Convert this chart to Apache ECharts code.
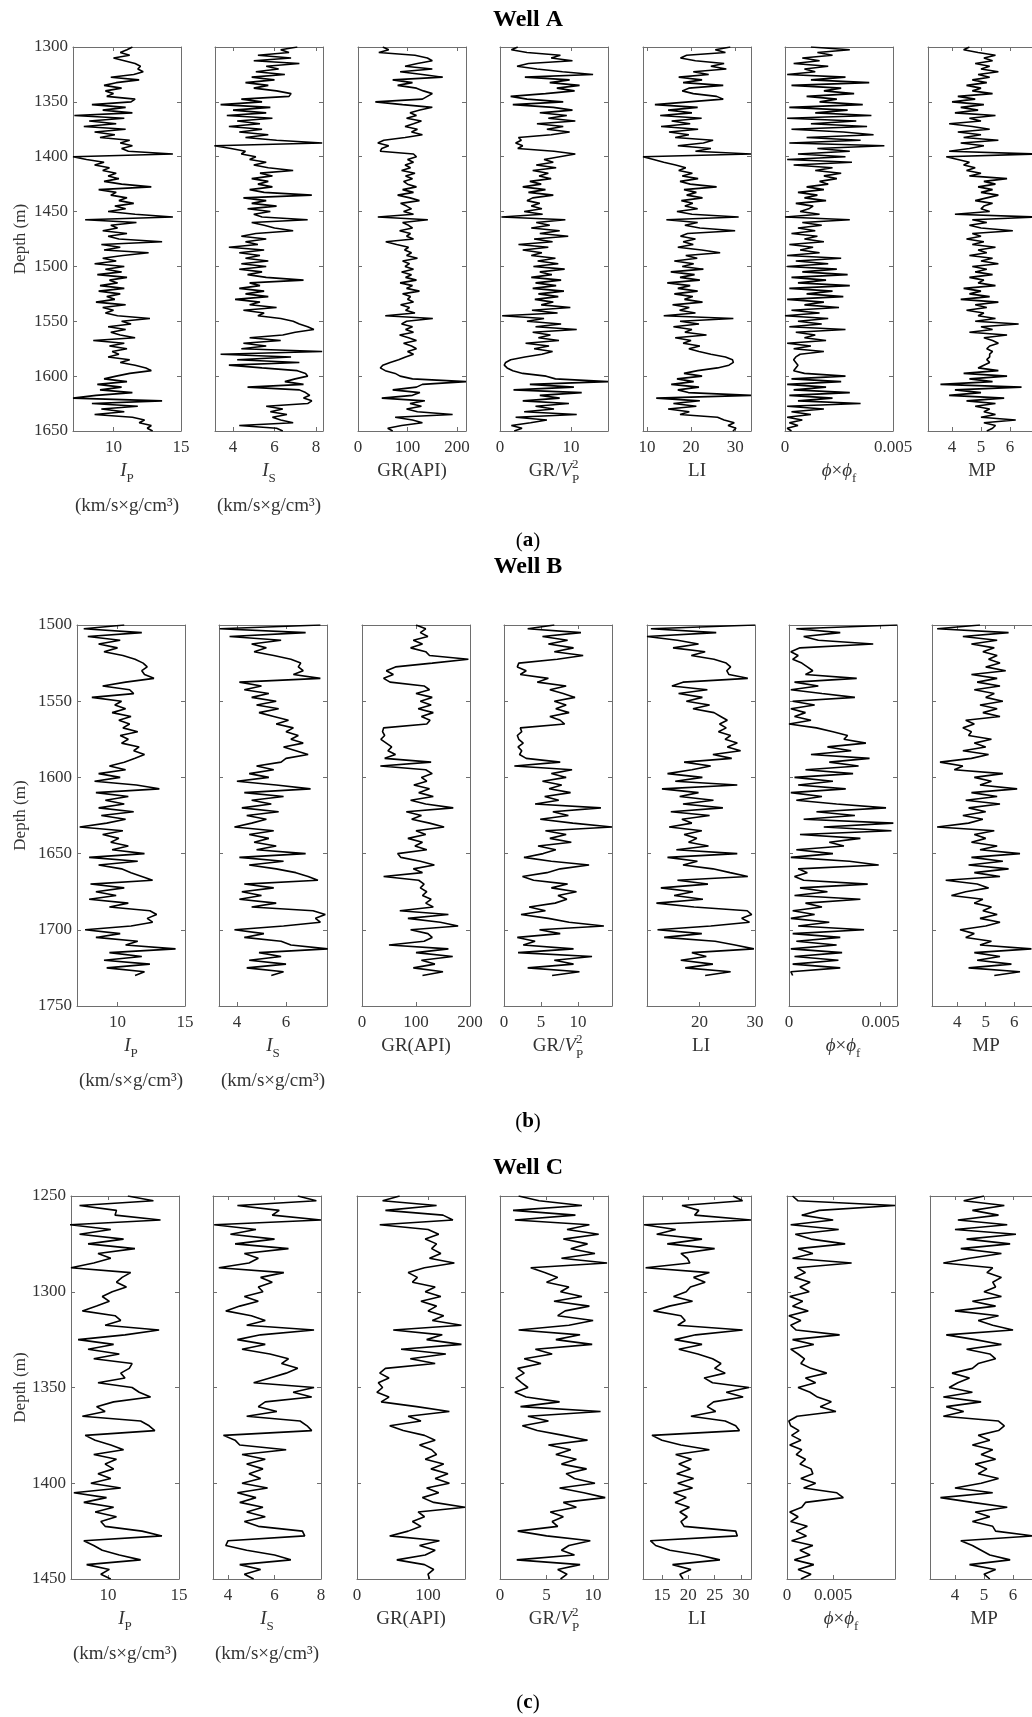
<!DOCTYPE html>
<html><head><meta charset="utf-8">
<script src="https://cdn.jsdelivr.net/npm/echarts@6/dist/echarts.min.js"></script>
<style>html,body{margin:0;padding:0;background:#fff}#c{width:1032px;height:1717px}</style>
</head><body><div id="c"></div><script>
// ---------------- DATA ----------------
const DEPTH_STEP = 2.5;
const A_DEPTH0 = 1300, B_DEPTH0 = 1500, C_DEPTH0 = 1250;
const A_YTICKS = [1300,1350,1400,1450,1500,1550,1600,1650];
const B_YTICKS = [1500,1550,1600,1650,1700,1750];
const C_YTICKS = [1250,1300,1350,1400,1450];
const A_XTICKS = [[10,15],[4,6,8],[0,100,200],[0,10],[10,20,30],[0,0.005],[4,5,6]];
const B_XTICKS = [[10,15],[4,6],[0,100,200],[0,5,10],[20,30],[0,0.005],[4,5,6]];
const C_XTICKS = [[10,15],[4,6,8],[0,100],[0,5,10],[15,20,25,30],[0,0.005],[4,5,6]];

// Well A (1300-1650 m)
const A_IP = [11.4,11.0,10.5,11.2,10.0,10.8,11.6,12.0,11.8,12.2, 11.5,9.8,11.9,10.2,9.3,10.6,9.4,10.0,9.5,11.6,
 11.3,8.4,10.9,9.2,11.4,7.1,10.8,8.2,10.2,7.8, 10.9,8.6,10.1,9.0,11.2,10.5,11.4,10.6,11.1,14.4,
 7.0,8.0,9.3,8.6,9.7,9.2,10.2,9.6,10.4,9.3, 10.6,12.8,8.9,10.2,9.8,11.0,10.4,11.5,10.1,10.9,
 9.6,11.6,14.4,7.9,11.7,9.8,10.3,9.2,11.0,9.6, 10.4,13.6,9.1,10.5,9.3,12.6,10.7,9.2,10.2,8.6,
 10.8,9.4,10.6,8.8,11.0,9.7,10.3,9.0,10.8,8.9, 10.5,9.5,10.1,8.7,10.9,9.2,10.0,9.4,10.3,12.7,
 10.6,11.3,9.6,10.9,9.8,10.5,11.6,8.5,10.8,9.7, 11.0,9.9,10.4,9.6,11.2,10.5,11.6,12.4,12.8,11.2,
 10.2,9.3,11.0,8.8,10.6,9.0,11.4,8.7,7.0,13.6, 8.4,11.8,9.1,10.8,8.6,11.4,12.3,11.9,12.8,12.5, 12.9];
const A_IS = [7.1,6.3,6.7,5.2,6.8,5.0,7.2,5.6,6.2,5.1, 6.5,4.9,6.0,4.6,5.7,5.0,6.1,6.8,6.7,4.4,
 5.4,3.4,5.8,4.0,5.6,3.7,5.9,4.2,5.3,3.8, 5.4,4.3,5.7,4.6,6.1,8.3,3.1,3.9,4.6,4.4,
 5.1,4.8,5.6,5.0,5.7,6.9,5.3,5.9,4.9,5.7, 5.2,5.9,4.8,5.5,7.8,4.5,5.6,4.9,6.1,4.7,
 5.8,5.0,5.4,7.6,4.9,5.5,6.0,6.9,5.1,4.4, 5.6,4.6,5.2,3.8,5.5,4.3,5.3,4.6,5.7,4.4,
 5.6,4.3,5.4,4.7,5.6,7.4,4.8,5.3,4.3,5.5, 4.6,5.7,4.1,5.3,4.8,6.1,4.5,5.5,5.2,6.3,
 6.9,7.2,7.6,7.9,7.0,6.4,4.8,6.3,4.5,5.6, 4.4,8.3,3.4,6.8,4.2,7.2,3.8,5.4,7.1,7.5,
 7.6,7.0,6.5,7.4,4.7,7.2,7.5,7.7,7.4,7.8, 7.6,5.6,6.4,5.8,6.6,5.9,6.3,6.9,4.3,6.1, 6.4];
const A_GR = [50,62,42,115,140,150,120,95,150,85, 130,171,70,110,80,118,132,150,140,130,
 35,90,150,125,105,118,98,128,112,95, 120,108,130,95,52,40,62,48,45,112,
 118,100,112,95,106,88,115,96,110,92, 100,118,90,112,80,105,124,86,98,108,
 92,112,40,141,90,102,110,84,106,98, 112,56,78,102,94,108,98,120,90,104,
 95,112,88,108,96,118,85,110,98,124, 90,106,100,112,86,104,96,115,55,151,
 98,88,110,96,112,84,102,118,92,108, 118,100,112,96,82,65,50,45,55,75,
 85,110,218,130,118,70,125,110,48,135, 105,128,98,120,191,75,110,130,88,60, 70];
const A_GRV = [2.5,1.6,3.8,8.5,7.2,10.2,4.0,2.4,5.2,8.8, 13.1,3.5,9.8,7.0,11.2,8.0,10.5,6.4,1.5,3.8,
 8.9,1.8,7.5,10.2,5.6,9.4,6.8,10.6,5.2,8.9, 6.6,9.8,7.2,2.6,3.0,2.2,3.2,2.5,7.6,10.6,
 8.4,6.2,7.5,5.1,7.9,4.6,6.8,5.5,7.2,4.2, 5.8,3.2,6.4,4.0,7.5,4.6,3.8,5.6,4.4,5.9,
 3.4,6.0,0.2,9.2,5.1,7.0,4.4,8.4,5.6,9.6, 4.8,7.4,2.6,6.8,3.2,5.9,4.4,7.8,5.3,8.2,
 4.7,9.1,5.6,7.3,4.4,8.6,5.0,7.9,4.6,9.0, 5.4,8.2,4.9,7.5,5.8,9.9,4.5,8.1,0.3,6.2,
 3.8,8.6,5.0,10.8,4.6,7.1,5.4,8.3,3.6,6.9, 4.8,7.4,5.9,3.5,1.5,0.8,0.6,1.0,1.8,3.2,
 6.5,7.8,15.2,4.2,10.4,1.9,11.5,5.6,8.4,3.2, 9.7,5.0,7.6,3.4,10.8,2.2,6.6,4.3,1.6,3.1, 2.0];
const A_LI = [28.9,25.5,27.8,19.0,17.6,21.0,27.5,24.5,28.0,20.5, 24.0,17.2,22.5,18.2,27.3,19.5,18.0,20.5,25.8,27.3,
 19.5,11.8,21.5,14.8,20.2,13.0,22.4,15.6,19.8,13.2, 21.6,15.0,19.5,16.4,25.0,22.8,17.0,24.5,21.0,33.6,
 9.1,11.5,13.8,16.5,18.8,17.2,20.3,18.0,21.6,17.5, 19.8,25.8,18.4,21.2,19.0,22.6,17.8,20.4,18.6,21.5,
 16.8,20.2,30.8,14.4,21.5,18.6,22.0,30.0,19.2,17.6, 21.0,18.2,20.5,17.0,22.4,26.6,18.8,21.4,16.2,20.6,
 18.0,22.8,15.4,20.8,17.5,22.0,14.6,19.8,17.0,21.5, 16.2,20.4,18.5,22.6,15.8,19.6,17.4,21.0,13.8,29.6,
 17.5,21.8,16.0,20.2,18.6,23.5,16.4,20.0,18.2,22.0, 19.5,21.8,24.5,27.8,29.4,29.6,28.6,26.0,21.5,18.4,
 22.5,16.8,20.6,15.5,21.8,17.0,19.4,33.6,12.1,22.0, 16.0,21.2,14.8,19.6,17.5,26.0,27.5,29.8,28.4,30.2, 29.5];
const A_PHI = [0.0012,0.0030,0.0015,0.0022,0.0008,0.0016,0.0004,0.0020,0.0009,0.0014,
 0.0001,0.0028,0.0012,0.0039,0.0003,0.0026,0.0018,0.0032,0.0010,0.0024,
 0.0016,0.0036,0.0002,0.0029,0.0014,0.0040,0.0001,0.0033,0.0012,0.0038,
 0.0003,0.0027,0.0041,0.0010,0.0035,0.0002,0.0046,0.0015,0.0030,0.0006,
 0.0028,0.0001,0.0031,0.0004,0.0022,0.0014,0.0026,0.0018,0.0024,0.0016,
 0.0020,0.0010,0.0018,0.0006,0.0015,0.0009,0.0019,0.0005,0.0013,0.0011,
 0.0007,0.0016,0.0000,0.0030,0.0008,0.0017,0.0006,0.0014,0.0003,0.0015,
 0.0009,0.0018,0.0002,0.0013,0.0007,0.0016,0.0001,0.0026,0.0005,0.0020,
 0.0001,0.0024,0.0008,0.0029,0.0003,0.0019,0.0006,0.0030,0.0002,0.0022,
 0.0010,0.0027,0.0001,0.0018,0.0009,0.0025,0.0003,0.0016,0.0000,0.0020,
 0.0006,0.0017,0.0002,0.0028,0.0005,0.0014,0.0009,0.0019,0.0001,0.0012,
 0.0004,0.0018,0.0007,0.0005,0.0004,0.0005,0.0006,0.0005,0.0004,0.0009,
 0.0028,0.0003,0.0026,0.0001,0.0019,0.0004,0.0030,0.0002,0.0022,0.0006,
 0.0035,0.0001,0.0018,0.0003,0.0012,0.0001,0.0008,0.0002,0.0006,0.0001, 0.0003];
const A_MP = [4.6,4.4,4.9,5.5,5.1,5.4,4.8,5.3,5.0,5.6, 4.9,5.3,4.7,5.2,4.5,5.0,4.7,5.4,4.2,4.8,
 4.0,5.1,4.3,4.9,4.1,5.5,4.6,5.0,3.9,4.7, 5.3,4.2,5.0,4.4,5.6,4.3,5.1,4.6,3.9,6.9,
 3.8,4.2,4.6,4.4,4.8,4.5,5.0,4.6,5.9,5.1, 5.5,4.9,5.4,5.0,5.6,5.2,4.8,5.4,5.1,5.0,
 5.3,4.1,6.9,4.7,5.2,4.6,5.0,6.1,4.7,5.0, 4.5,5.1,4.7,5.5,4.9,5.2,4.6,5.4,5.0,5.6,
 4.7,5.2,4.8,5.4,4.6,5.1,4.9,5.5,4.4,5.0, 4.6,5.3,4.3,5.6,4.8,5.2,4.5,5.1,4.9,5.5,
 4.8,6.3,5.0,5.4,4.6,5.9,5.1,5.4,5.6,5.3, 5.2,5.4,5.3,5.3,5.2,5.3,5.1,4.9,5.6,4.4,
 5.9,4.6,5.4,3.6,6.4,4.1,5.0,3.9,5.8,4.5, 5.5,4.8,5.3,5.1,5.5,5.0,6.2,5.1,5.5,5.4, 5.2];

// Well B (1500-1730 m)
const B_IP = [10.5,7.5,11.8,7.8,10.2,8.6,10.0,9.0,10.4,11.3, 11.9,12.2,11.8,12.0,12.7,10.6,8.9,10.9,11.2,8.1,
 10.3,9.8,10.6,9.6,11.0,10.1,10.9,10.4,11.5,10.2, 10.8,10.3,11.6,11.2,12.0,11.3,10.5,9.4,10.6,8.6,
 10.2,8.3,11.4,13.1,8.4,10.8,9.1,10.5,8.6,11.2, 8.8,10.6,9.2,7.2,10.4,8.9,10.1,9.5,10.8,9.6,
 12.0,7.9,11.5,8.6,10.3,11.0,11.8,12.6,8.0,10.5, 8.4,9.9,7.9,10.8,9.4,12.4,12.9,12.2,12.6,11.0,
 7.6,10.2,8.4,11.5,10.6,14.3,9.4,11.8,9.0,12.4, 9.2,12.0,11.3];
const B_IS = [7.4,3.3,6.8,3.7,5.8,4.6,5.2,4.7,5.5,6.2, 6.6,6.5,6.7,6.3,7.4,4.1,5.0,4.3,5.3,4.6,
 5.6,4.8,5.7,4.9,5.5,6.1,5.6,6.3,6.0,6.5, 6.2,6.7,5.9,6.4,6.9,6.0,5.8,4.8,5.5,4.5,
 5.3,4.0,5.6,7.0,4.3,5.9,4.6,5.4,4.2,5.7, 4.4,5.2,4.6,3.9,5.5,4.5,5.3,4.7,5.6,4.8,
 6.8,4.1,5.9,4.5,5.6,6.4,6.9,7.3,4.3,5.5, 4.2,5.0,4.1,5.6,4.6,7.1,7.6,7.2,7.4,5.9,
 3.9,5.1,4.3,5.8,6.2,7.7,4.9,5.8,4.5,6.0, 4.4,5.9,5.4];
const B_GR = [100,118,108,122,95,112,90,118,125,197, 130,62,45,58,40,52,115,125,100,130,
 108,128,104,132,110,126,120,40,38,42, 35,45,55,48,62,42,128,34,118,130,
 110,120,96,125,105,132,90,118,169,82, 110,92,125,152,100,118,85,112,98,120,
 66,72,108,134,95,112,40,105,115,108, 120,112,128,118,132,70,160,85,145,178,
 90,122,130,115,50,160,100,168,110,135, 95,150,112];
const B_GRV = [6.8,3.2,10.4,5.2,8.6,6.0,9.4,6.8,10.7,7.2, 2.0,1.8,3.0,2.2,6.0,4.5,8.4,6.2,8.0,9.6,
 6.8,8.4,7.0,8.8,6.2,7.6,8.2,2.2,2.4,1.8, 2.0,2.6,1.9,2.4,2.1,3.0,7.6,1.4,9.2,6.4,
 8.4,5.2,7.8,6.1,9.0,5.5,7.4,4.2,13.1,6.6, 8.7,4.9,9.3,14.6,5.6,8.4,6.2,9.1,4.6,7.0,
 5.3,2.7,6.4,11.5,7.6,5.8,2.5,4.0,8.6,6.4, 9.8,7.3,8.5,6.9,3.4,5.6,2.3,6.0,8.8,13.5,
 4.8,7.6,1.8,4.2,2.6,9.4,1.9,11.9,6.8,9.4, 3.2,10.2,6.5];
const B_LI = [30.0,11.2,23.0,10.5,16.0,19.8,15.2,21.0,18.5,22.6, 24.8,25.6,24.9,25.3,28.7,17.0,15.0,21.4,16.2,20.5,
 17.6,21.8,18.8,22.6,23.8,25.0,23.6,24.8,23.4,25.6, 24.6,26.8,25.0,27.4,22.4,25.8,17.2,22.0,18.6,14.2,
 20.5,15.6,26.8,13.2,19.8,16.4,22.5,17.0,24.2,14.8, 21.8,16.8,18.6,14.5,20.4,17.2,19.5,18.0,21.6,15.8,
 26.8,14.2,19.6,17.0,22.4,25.5,28.7,16.0,21.5,13.0, 18.8,15.4,20.6,12.2,19.0,28.6,29.4,27.6,29.0,22.0,
 12.4,20.4,13.6,22.8,26.4,29.8,18.6,21.2,16.6,22.4, 17.4,25.6,21.0];
const B_PHI = [0.0059,0.0004,0.0028,0.0008,0.0016,0.0046,0.0006,0.0001,0.0005,0.0002,
 0.0007,0.0010,0.0013,0.0009,0.0037,0.0003,0.0016,0.0001,0.0018,0.0036,
 0.0002,0.0014,0.0001,0.0009,0.0003,0.0012,0.0000,0.0015,0.0024,0.0032,
 0.0030,0.0042,0.0021,0.0034,0.0012,0.0044,0.0022,0.0038,0.0009,0.0035,
 0.0003,0.0024,0.0005,0.0031,0.0001,0.0018,0.0004,0.0026,0.0053,0.0015,
 0.0036,0.0008,0.0057,0.0019,0.0056,0.0006,0.0039,0.0022,0.0030,0.0004,
 0.0024,0.0001,0.0033,0.0049,0.0005,0.0010,0.0003,0.0008,0.0043,0.0006,
 0.0021,0.0003,0.0039,0.0009,0.0018,0.0002,0.0014,0.0001,0.0022,0.0005,
 0.0041,0.0002,0.0028,0.0004,0.0026,0.0001,0.0029,0.0003,0.0027,0.0002,
 0.0028,0.0001,0.0002];
const B_MP = [4.8,3.3,5.8,4.2,5.4,4.5,5.3,4.9,5.4,5.1, 5.5,5.0,5.7,4.5,5.4,4.7,5.5,4.6,5.3,5.0,
 5.6,4.8,5.4,4.9,5.5,4.3,4.6,4.2,4.5,4.4, 5.2,4.6,5.0,4.2,5.1,4.5,3.4,4.2,3.9,5.6,
 4.6,5.2,4.8,6.1,4.5,5.4,4.3,5.5,4.4,5.0, 4.2,4.9,4.4,3.3,5.3,4.6,5.0,4.5,5.4,4.8,
 6.2,4.5,5.6,4.4,5.8,4.6,5.5,3.6,4.7,5.1, 4.3,3.8,4.9,4.6,5.2,4.9,5.4,4.8,5.5,5.0,
 4.1,4.6,4.3,5.2,4.8,6.6,4.6,5.5,4.7,5.9, 4.4,6.2,5.3];

// Well C (1250-1450 m)
const C_IP = [11.4,13.2,8.0,10.6,10.5,13.7,7.3,10.2,8.0,11.1, 8.6,11.9,9.3,10.2,9.0,7.4,11.6,11.0,10.6,11.3,
 10.3,9.6,10.1,9.2,8.2,10.5,10.9,9.8,13.6,11.2, 7.9,10.4,8.6,10.8,9.0,11.7,11.5,10.9,11.2,9.3,
 11.7,12.2,13.0,10.4,9.2,9.8,8.2,12.3,12.9,13.3, 8.4,9.1,10.2,11.1,9.0,10.6,9.8,10.4,9.3,10.2,
 8.8,10.9,7.6,9.9,8.3,10.4,9.1,10.6,9.5,9.8, 12.4,13.8,8.3,9.0,9.6,10.8,12.3,8.5,10.1,9.5, 10.2];
const C_IS = [7.0,7.8,4.4,6.2,5.9,8.0,3.4,5.2,4.1,6.0, 4.3,6.6,4.7,5.3,4.9,3.6,6.4,5.4,5.9,5.3,
 5.5,4.7,5.3,4.5,3.9,5.0,5.6,4.8,7.7,5.4, 4.4,5.6,4.6,5.8,6.6,6.3,7.0,6.5,5.8,5.1,
 7.7,6.8,7.6,5.6,5.3,6.1,4.8,7.1,7.4,7.6, 3.8,4.3,4.5,6.5,4.6,5.6,4.8,5.5,4.9,5.4,
 4.6,5.7,4.4,5.2,4.5,5.5,4.8,5.6,4.7,5.3, 7.2,7.3,4.0,3.9,4.8,6.0,6.7,4.5,5.4,4.7, 5.1];
const C_GR = [60,36,112,40,121,135,32,100,115,96, 112,105,118,102,137,95,72,85,78,110,
 96,118,90,112,100,122,106,147,51,120, 98,147,62,125,75,110,40,32,45,30,
 36,28,45,34,84,130,72,90,46,65, 95,110,88,105,112,96,122,104,128,110,
 130,98,115,92,108,152,86,95,78,90, 72,46,116,88,110,96,56,95,108,100, 102];
const C_GRV = [2.0,4.2,8.8,1.4,8.1,1.6,9.6,7.2,10.6,6.8, 9.4,7.6,10.2,6.6,11.5,3.3,4.8,6.2,5.0,7.4,
 6.5,8.8,5.8,9.6,7.0,6.2,10.0,7.4,2.0,8.6, 6.0,9.9,3.8,5.6,2.6,4.4,1.9,2.6,1.7,2.3,
 3.0,1.6,2.8,6.4,2.2,10.8,3.0,5.2,2.4,4.0, 6.8,9.4,5.2,7.6,6.0,8.2,6.6,9.3,7.1,8.0,
 10.2,6.4,9.0,11.3,6.8,8.2,5.4,6.8,5.6,6.2, 1.9,5.0,9.7,7.4,6.6,8.0,1.8,8.6,6.2,7.2, 6.5];
const C_LI = [28.5,30.3,18.8,22.0,21.2,31.9,11.6,17.6,14.0,22.6, 16.0,25.0,18.6,19.8,20.3,11.9,24.0,21.0,23.2,20.4,
 19.6,17.2,20.8,16.4,13.4,18.6,19.4,18.0,30.3,21.4, 17.4,22.6,18.2,21.8,24.6,26.2,25.0,27.0,23.0,24.6,
 31.5,27.2,30.4,24.8,23.6,25.2,20.5,27.0,29.0,29.7, 13.1,15.0,18.6,24.0,17.6,20.6,18.2,20.4,17.8,21.0,
 18.0,20.8,17.2,19.6,17.5,20.2,18.4,19.8,18.6,19.2, 29.0,29.3,12.8,13.8,16.5,22.0,26.0,17.0,20.5,18.4, 19.0];
const C_PHI = [0.0006,0.0012,0.0117,0.0035,0.0016,0.0050,0.0004,0.0056,0.0009,0.0026,
 0.0063,0.0012,0.0028,0.0006,0.0070,0.0011,0.0020,0.0008,0.0025,0.0014,
 0.0024,0.0003,0.0017,0.0006,0.0023,0.0002,0.0015,0.0004,0.0010,0.0057,
 0.0006,0.0029,0.0004,0.0012,0.0019,0.0015,0.0026,0.0043,0.0020,0.0031,
 0.0012,0.0025,0.0033,0.0048,0.0036,0.0053,0.0011,0.0002,0.0004,0.0013,
 0.0005,0.0015,0.0003,0.0016,0.0010,0.0020,0.0014,0.0026,0.0028,0.0015,
 0.0031,0.0018,0.0054,0.0061,0.0020,0.0016,0.0003,0.0012,0.0004,0.0022,
 0.0010,0.0021,0.0005,0.0028,0.0014,0.0025,0.0008,0.0029,0.0012,0.0026, 0.0015];
const C_MP = [5.0,4.3,5.7,4.6,5.5,4.1,5.8,4.0,6.1,4.4, 5.9,4.2,5.6,4.5,3.6,5.3,5.1,5.6,5.3,5.4,
 5.0,5.6,4.6,5.4,4.0,5.5,4.8,5.3,6.0,3.7, 4.7,5.6,4.4,5.2,5.4,4.8,4.6,3.9,4.5,4.1,
 3.8,4.6,3.6,4.9,3.7,4.3,3.6,5.5,5.7,5.5, 4.8,5.2,4.6,5.3,4.9,5.4,4.7,5.1,4.8,5.5,
 4.9,4.0,5.3,3.5,4.6,5.8,4.7,5.2,4.6,5.3, 5.4,6.7,4.2,4.6,4.9,5.2,5.9,4.5,5.4,5.0, 5.2];

// ---------------- LAYOUT ----------------
const SERIF = '"Liberation Serif","Times New Roman",serif';
const TRACK_W = 108;
const WELLS = [
  {title:'Well A', titleY:20, tag:'a', tagY:541, top:47, bottom:431,
   lefts:[73,215,358,500,643,785,928], yMin:1300, yMax:1650, yTicks:A_YTICKS, d0:A_DEPTH0,
   curves:[A_IP,A_IS,A_GR,A_GRV,A_LI,A_PHI,A_MP],
   ranges:[[7,15],[3.13,8.34],[0,218],[0,15.2],[9.1,33.6],[0,0.005],[3.17,6.9]], xTicks:A_XTICKS},
  {title:'Well B', titleY:567, tag:'b', tagY:1122, top:625, bottom:1006,
   lefts:[77,219,362,504,647,789,932], yMin:1500, yMax:1750, yTicks:B_YTICKS, d0:B_DEPTH0,
   curves:[B_IP,B_IS,B_GR,B_GRV,B_LI,B_PHI,B_MP],
   ranges:[[7,15],[3.27,7.67],[0,200],[0,14.6],[10.5,30],[0,0.0059],[3.12,6.9]], xTicks:B_XTICKS},
  {title:'Well C', titleY:1168, tag:'c', tagY:1703, top:1196, bottom:1579,
   lefts:[71,213,357,500,643,787,930], yMin:1250, yMax:1450, yTicks:C_YTICKS, d0:C_DEPTH0,
   curves:[C_IP,C_IS,C_GR,C_GRV,C_LI,C_PHI,C_MP],
   ranges:[[7.4,15],[3.35,8],[0,152],[0,11.6],[11.4,31.9],[0,0.0117],[3.14,6.86]], xTicks:C_XTICKS}
];

const BOX = '#6e6e6e', TXT = '#333';
const ctx = document.createElement('canvas').getContext('2d');
function tw(t, f){ ctx.font = f; return ctx.measureText(t).width; }
function comp(cx, cy, pieces){
  let total = 0;
  pieces.forEach(p => { p.w = tw(p.t, p.f); if (p.adv !== false) total += p.w; });
  let x = cx - total/2; const out = [];
  pieces.forEach(p => {
    out.push({type:'text', x:x, y:cy + (p.dy||0), silent:true,
      style:{text:p.t, font:p.f, fill:TXT, align:'left', verticalAlign:'middle'}});
    if (p.adv !== false) x += p.w;
  });
  return out;
}
const F = `19px ${SERIF}`, FI = `italic 19px ${SERIF}`, FS = `13px ${SERIF}`, FU = `19px ${SERIF}`;

const grids = [], xAxes = [], yAxes = [], series = [], graphics = [];
WELLS.forEach((w, wi) => {
  const h = w.bottom - w.top;
  w.curves.forEach((vals, ti) => {
    const g = grids.length;
    grids.push({left:w.lefts[ti], top:w.top, width:TRACK_W, height:h, containLabel:false, outerBoundsMode:'none'});
    const r = w.ranges[ti], ticks = w.xTicks[ti];
    const lineS = {show:true, onZero:false, lineStyle:{color:BOX, width:1}};
    xAxes.push({type:'value', gridIndex:g, position:'bottom', min:r[0], max:r[1],
      axisLine:lineS, splitLine:{show:false},
      axisTick:{show:true, inside:true, length:4, customValues:ticks, lineStyle:{color:BOX}},
      axisLabel:{show:true, customValues:ticks, margin:8, fontFamily:SERIF, fontSize:17, color:TXT,
        formatter: v => String(v)}});
    xAxes.push({type:'value', gridIndex:g, position:'top', min:r[0], max:r[1],
      axisLine:lineS, splitLine:{show:false},
      axisTick:{show:true, inside:true, length:4, customValues:ticks, lineStyle:{color:BOX}},
      axisLabel:{show:false}});
    yAxes.push({type:'value', gridIndex:g, position:'left', inverse:true, min:w.yMin, max:w.yMax,
      axisLine:lineS, splitLine:{show:false},
      axisTick:{show:true, inside:true, length:4, customValues:w.yTicks, lineStyle:{color:BOX}},
      axisLabel:{show: ti === 0, customValues:w.yTicks, margin:5, fontFamily:SERIF, fontSize:17, color:TXT,
        formatter: v => String(v)}});
    yAxes.push({type:'value', gridIndex:g, position:'right', inverse:true, min:w.yMin, max:w.yMax,
      axisLine:lineS, splitLine:{show:false},
      axisTick:{show:true, inside:true, length:4, customValues:w.yTicks, lineStyle:{color:BOX}},
      axisLabel:{show:false}});
    series.push({type:'line', xAxisIndex:2*g, yAxisIndex:2*g, symbol:'none', showSymbol:false,
      clip:true, animation:false, silent:true,
      lineStyle:{color:'#000', width:1.6},
      data: vals.map((v, i) => [v, w.d0 + i*DEPTH_STEP])});
  });

  // axis names
  const ny = w.bottom + 40, uy = w.bottom + 75;
  const cxs = w.lefts.map(l => l + TRACK_W/2);
  graphics.push(...comp(cxs[0], ny, [{t:'I', f:FI}, {t:'P', f:FS, dy:8}]));
  graphics.push(...comp(cxs[0], uy, [{t:'(km/s\u00d7g/cm\u00b3)', f:FU}]));
  graphics.push(...comp(cxs[1], ny, [{t:'I', f:FI}, {t:'S', f:FS, dy:8}]));
  graphics.push(...comp(cxs[1], uy, [{t:'(km/s\u00d7g/cm\u00b3)', f:FU}]));
  graphics.push(...comp(cxs[2], ny, [{t:'GR(API)', f:F}]));
  graphics.push(...comp(cxs[3], ny, [{t:'GR/', f:F}, {t:'V', f:FI}, {t:'2', f:FS, dy:-6, adv:false}, {t:'P', f:FS, dy:9}]));
  graphics.push(...comp(cxs[4], ny, [{t:'LI', f:F}]));
  graphics.push(...comp(cxs[5], ny, [{t:'\u03d5', f:FI}, {t:'\u00d7', f:F}, {t:'\u03d5', f:FI}, {t:'f', f:FS, dy:8}]));
  graphics.push(...comp(cxs[6], ny, [{t:'MP', f:F}]));

  // depth label
  graphics.push({type:'text', x:21, y:(w.top + w.bottom)/2, rotation:Math.PI/2, silent:true,
    style:{text:'Depth (m)', font:`17px ${SERIF}`, fill:TXT, align:'center', verticalAlign:'middle'}});
  // title
  graphics.push({type:'text', x:528, y:w.titleY, silent:true,
    style:{text:w.title, font:`bold 24px ${SERIF}`, fill:'#000', align:'center', verticalAlign:'middle'}});
  // panel tag (a)/(b)/(c)
  graphics.push(...comp(528, w.tagY, [{t:'(', f:`21px ${SERIF}`}, {t:w.tag, f:`bold 21px ${SERIF}`}, {t:')', f:`21px ${SERIF}`}]).map(e => { e.style.fill = '#000'; return e; }));
});

const chart = echarts.init(document.getElementById('c'), null, {renderer:'canvas'});
chart.setOption({
  animation:false,
  backgroundColor:'#fff',
  grid:grids, xAxis:xAxes, yAxis:yAxes, series:series,
  graphic:{elements:graphics}
});
</script></body></html>
